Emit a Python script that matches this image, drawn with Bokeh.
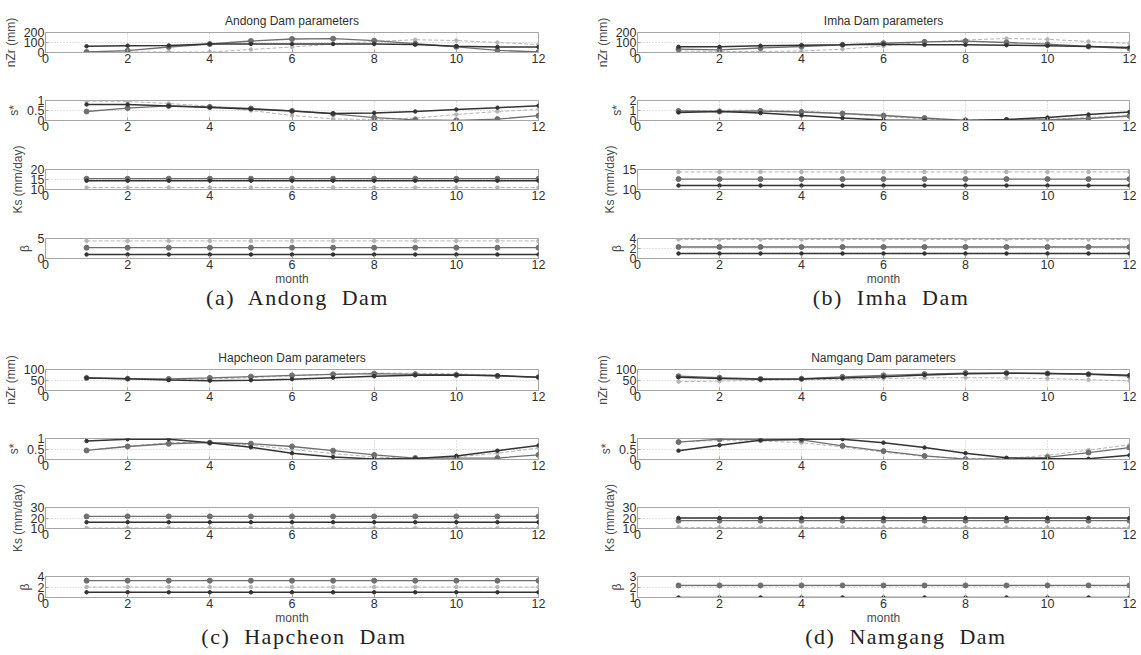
from bokeh.plotting import figure
from bokeh.layouts import column, row
from bokeh.models import Range1d, FixedTicker, CustomJSTickFormatter, Div, Spacer
from bokeh.embed import file_html
from bokeh.resources import INLINE

# ---------------- data ----------------
months = [1, 2, 3, 4, 5, 6, 7, 8, 9, 10, 11, 12]
month_ticks = [0, 2, 4, 6, 8, 10, 12]

# (a) Andong Dam
a_nzr_dark = [62, 68, 70, 85, 86, 86, 86, 86, 80, 62, 56, 55]
a_nzr_mid = [5, 18, 55, 85, 115, 135, 138, 118, 88, 57, 22, 5]
a_nzr_light = [5, 5, 5, 5, 30, 55, 85, 110, 128, 120, 100, 80]
a_s_dark = [0.8, 0.8, 0.73, 0.65, 0.57, 0.47, 0.35, 0.38, 0.45, 0.55, 0.64, 0.74]
a_s_mid = [0.45, 0.62, 0.73, 0.68, 0.6, 0.48, 0.33, 0.14, 0.03, 0.01, 0.07, 0.24]
a_s_light = [0.97, 0.95, 0.85, 0.72, 0.5, 0.25, 0.08, 0.05, 0.12, 0.3, 0.45, 0.55]
a_ks_dark = [14.4, 14.4, 14.4, 14.4, 14.4, 14.4, 14.4, 14.4, 14.4, 14.4, 14.4, 14.4]
a_ks_mid = [15.4, 15.4, 15.4, 15.4, 15.4, 15.4, 15.4, 15.4, 15.4, 15.4, 15.4, 15.4]
a_ks_light = [11, 11, 11, 11, 11, 11, 11, 11, 11, 11, 11, 11]
a_b_dark = [1, 1, 1, 1, 1, 1, 1, 1, 1, 1, 1, 1]
a_b_mid = [2.7, 2.7, 2.7, 2.7, 2.7, 2.7, 2.7, 2.7, 2.7, 2.7, 2.7, 2.7]
a_b_light = [4.4, 4.4, 4.4, 4.4, 4.4, 4.4, 4.4, 4.4, 4.4, 4.4, 4.4, 4.4]

# (b) Imha Dam
b_nzr_dark = [57, 57, 67, 73, 77, 83, 77, 77, 73, 67, 60, 50]
b_nzr_mid = [33, 27, 45, 60, 77, 93, 107, 113, 100, 83, 60, 40]
b_nzr_light = [15, 10, 10, 15, 33, 65, 105, 125, 140, 132, 110, 92]
b_s_dark = [0.8, 0.9, 0.75, 0.5, 0.25, 0.05, 0.0, 0.0, 0.1, 0.3, 0.6, 0.85]
b_s_mid = [0.95, 0.9, 0.95, 0.85, 0.7, 0.5, 0.25, 0.02, 0.05, 0.05, 0.2, 0.45]
b_s_light = [1.0, 1.0, 1.05, 0.95, 0.7, 0.4, 0.15, 0.02, 0.05, 0.12, 0.3, 0.5]
b_ks_dark = [11, 11, 11, 11, 11, 11, 11, 11, 11, 11, 11, 11]
b_ks_mid = [12.6, 12.6, 12.6, 12.6, 12.6, 12.6, 12.6, 12.6, 12.6, 12.6, 12.6, 12.6]
b_ks_light = [14.4, 14.4, 14.4, 14.4, 14.4, 14.4, 14.4, 14.4, 14.4, 14.4, 14.4, 14.4]
b_b_dark = [1, 1, 1, 1, 1, 1, 1, 1, 1, 1, 1, 1]
b_b_mid = [2.3, 2.3, 2.3, 2.3, 2.3, 2.3, 2.3, 2.3, 2.3, 2.3, 2.3, 2.3]
b_b_light = [3.8, 3.8, 3.8, 3.8, 3.8, 3.8, 3.8, 3.8, 3.8, 3.8, 3.8, 3.8]

# (c) Hapcheon Dam
c_nzr_dark = [60, 56, 50, 47, 49, 54, 61, 68, 73, 74, 71, 63]
c_nzr_mid = [60, 56, 55, 60, 66, 72, 77, 80, 77, 74, 69, 64]
c_nzr_light = [60, 55, 52, 55, 61, 70, 78, 83, 82, 80, 72, 62]
c_s_dark = [0.88, 0.97, 0.97, 0.8, 0.58, 0.3, 0.12, 0.02, 0.05, 0.17, 0.42, 0.67]
c_s_mid = [0.43, 0.62, 0.75, 0.8, 0.75, 0.62, 0.42, 0.22, 0.07, 0.07, 0.07, 0.22]
c_s_light = [0.45, 0.63, 0.8, 0.82, 0.68, 0.48, 0.28, 0.12, 0.05, 0.12, 0.3, 0.55]
c_ks_dark = [16, 16, 16, 16, 16, 16, 16, 16, 16, 16, 16, 16]
c_ks_mid = [21.5, 21.5, 21.5, 21.5, 21.5, 21.5, 21.5, 21.5, 21.5, 21.5, 21.5, 21.5]
c_ks_light = [10.5, 10.5, 10.5, 10.5, 10.5, 10.5, 10.5, 10.5, 10.5, 10.5, 10.5, 10.5]
c_b_dark = [1, 1, 1, 1, 1, 1, 1, 1, 1, 1, 1, 1]
c_b_mid = [3.2, 3.2, 3.2, 3.2, 3.2, 3.2, 3.2, 3.2, 3.2, 3.2, 3.2, 3.2]
c_b_light = [2, 2, 2, 2, 2, 2, 2, 2, 2, 2, 2, 2]

# (d) Namgang Dam
d_nzr_dark = [63, 57, 53, 55, 59, 66, 74, 80, 82, 81, 78, 73]
d_nzr_mid = [68, 61, 55, 56, 65, 72, 78, 83, 83, 81, 77, 69]
d_nzr_light = [42, 45, 48, 51, 54, 57, 60, 61, 60, 57, 51, 46]
d_s_dark = [0.42, 0.68, 0.92, 0.97, 0.97, 0.8, 0.57, 0.3, 0.08, 0.03, 0.03, 0.2]
d_s_mid = [0.83, 0.97, 0.95, 0.93, 0.65, 0.4, 0.17, 0.02, 0.02, 0.1, 0.33, 0.57]
d_s_light = [0.85, 0.9, 0.88, 0.8, 0.6, 0.35, 0.15, 0.05, 0.05, 0.2, 0.45, 0.7]
d_ks_dark = [20, 20, 20, 20, 20, 20, 20, 20, 20, 20, 20, 20]
d_ks_mid = [17.5, 17.5, 17.5, 17.5, 17.5, 17.5, 17.5, 17.5, 17.5, 17.5, 17.5, 17.5]
d_ks_light = [11, 11, 11, 11, 11, 11, 11, 11, 11, 11, 11, 11]
d_b_dark = [1, 1, 1, 1, 1, 1, 1, 1, 1, 1, 1, 1]
d_b_mid = [2.15, 2.15, 2.15, 2.15, 2.15, 2.15, 2.15, 2.15, 2.15, 2.15, 2.15, 2.15]
d_b_light = [2.1, 2.1, 2.1, 2.1, 2.1, 2.1, 2.1, 2.1, 2.1, 2.1, 2.1, 2.1]

titles = ["Andong Dam parameters", "Imha Dam parameters",
          "Hapcheon Dam parameters", "Namgang Dam parameters"]
captions = ["(a)  Andong  Dam", "(b)  Imha  Dam", "(c)  Hapcheon  Dam", "(d)  Namgang  Dam"]
ylabels = ["nZr (mm)", "s*", "Ks (mm/day)", "\u03b2"]

yranges = {
    "a": [(0, 200), (0, 1), (10, 20), (0, 5)],
    "b": [(0, 200), (0, 2), (10, 15), (0, 4)],
    "c": [(0, 100), (0, 1), (10, 30), (0, 4)],
    "d": [(0, 100), (0, 1), (10, 30), (1, 3)],
}
yticks = {
    "a": [[0, 100, 200], [0, 0.5, 1], [10, 15, 20], [0, 5]],
    "b": [[0, 100, 200], [0, 1, 2], [10, 15], [0, 2, 4]],
    "c": [[0, 50, 100], [0, 0.5, 1], [10, 20, 30], [0, 2, 4]],
    "d": [[0, 50, 100], [0, 0.5, 1], [10, 20, 30], [1, 2, 3]],
}
series = {
    "a": [(a_nzr_dark, a_nzr_mid, a_nzr_light), (a_s_dark, a_s_mid, a_s_light),
          (a_ks_dark, a_ks_mid, a_ks_light), (a_b_dark, a_b_mid, a_b_light)],
    "b": [(b_nzr_dark, b_nzr_mid, b_nzr_light), (b_s_dark, b_s_mid, b_s_light),
          (b_ks_dark, b_ks_mid, b_ks_light), (b_b_dark, b_b_mid, b_b_light)],
    "c": [(c_nzr_dark, c_nzr_mid, c_nzr_light), (c_s_dark, c_s_mid, c_s_light),
          (c_ks_dark, c_ks_mid, c_ks_light), (c_b_dark, c_b_mid, c_b_light)],
    "d": [(d_nzr_dark, d_nzr_mid, d_nzr_light), (d_s_dark, d_s_mid, d_s_light),
          (d_ks_dark, d_ks_mid, d_ks_light), (d_b_dark, d_b_mid, d_b_light)],
}

# ---------------- style ----------------
DARK = "#333333"
MID = "#6f6f6f"
LIGHT = "#b5b5b5"
BOX = "#a6a6a6"
GRID = "#c4c4c4"
TXT = "#303030"
LBL = "#4a4a4a"
FONT = "Liberation Sans"


def subplot(key, i, bl, fw, br, bt, fh, bb, title=None, xlabel=None):
    y0, y1 = yranges[key][i]
    p = figure(output_backend="svg", toolbar_location=None, tools="",
               frame_width=fw, frame_height=fh,
               min_border_left=bl, min_border_right=br,
               min_border_top=bt, min_border_bottom=bb,
               x_range=Range1d(0, 12), y_range=Range1d(y0, y1))
    p.background_fill_color = "white"
    p.border_fill_color = "white"
    p.outline_line_color = BOX
    p.outline_line_width = 1

    for ax in (p.xaxis[0], p.yaxis[0]):
        ax.axis_line_color = BOX
        ax.major_tick_line_color = BOX
        ax.major_tick_in = 3
        ax.major_tick_out = 0
        ax.minor_tick_line_color = None
        ax.major_label_text_font = FONT
        ax.major_label_text_font_size = "12.5px"
        ax.major_label_text_color = TXT
        ax.major_label_standoff = 1
        ax.axis_label_text_font = FONT
        ax.axis_label_text_font_size = "12px"
        ax.axis_label_text_font_style = "normal"
        ax.axis_label_text_color = LBL
        ax.axis_label_standoff = 3

    p.xaxis.ticker = FixedTicker(ticks=month_ticks)
    p.yaxis.ticker = FixedTicker(ticks=yticks[key][i])
    p.yaxis.formatter = CustomJSTickFormatter(code="return String(tick);")
    p.yaxis.axis_label = ylabels[i]
    if xlabel:
        p.xaxis.axis_label = xlabel
        p.xaxis.axis_label_standoff = 0

    for g in (p.xgrid[0], p.ygrid[0]):
        g.grid_line_color = GRID
        g.grid_line_dash = "1 2"
        g.grid_line_width = 1

    if title:
        p.title.text = title
        p.title.align = "center"
        p.title.text_font = FONT
        p.title.text_font_size = "12px"
        p.title.text_font_style = "normal"
        p.title.text_color = TXT
        p.title.standoff = 10

    dark, mid, light = series[key][i]
    p.line(months, light, line_color=LIGHT, line_width=1, line_dash="4 2")
    p.scatter(months, light, size=3.5, marker="circle", color=LIGHT)
    p.line(months, mid, line_color=MID, line_width=1.3)
    p.scatter(months, mid, size=5, marker="circle", fill_color=MID, line_color=MID)
    p.line(months, dark, line_color=DARK, line_width=1.5)
    p.scatter(months, dark, size=3.5, marker="circle", color=DARK)
    return p


def caption(text, spacer_w, w, h):
    d = Div(text=text, width=w, height=h, margin=(0, 0, 0, 0),
            styles={"font-family": "'Liberation Serif', serif", "font-size": "22px",
                    "line-height": "20px", "text-align": "center",
                    "letter-spacing": "1.5px", "white-space": "pre", "color": "#222222"})
    return row(Spacer(width=spacer_w, height=h), d, spacing=0)


def panel(key, bl, fw, br, fh, borders, cap_h, cap_sp, cap_w, title, cap):
    figs = []
    for i in range(4):
        bt, bb = borders[i]
        figs.append(subplot(key, i, bl, fw, br, bt, fh, bb,
                            title=title if i == 0 else None,
                            xlabel="month" if i == 3 else None))
    figs.append(caption(cap, cap_sp, cap_w, cap_h))
    return column(*figs, spacing=0)


top_b = [(32, 18), (30, 23), (26, 24), (25, 29)]
bot_b = [(32, 16), (32, 17), (31, 23), (25, 29)]

col_a = panel("a", 45, 493, 50, 20, top_b, 49, 48, 499, titles[0], captions[0])
col_b = panel("b", 49, 492, 10, 20, top_b, 49, 61, 484, titles[1], captions[1])
col_c = panel("c", 45, 493, 50, 21, bot_b, 22, 48, 512, titles[2], captions[2])
col_d = panel("d", 49, 492, 10, 21, bot_b, 22, 91, 454, titles[3], captions[3])

layout = column(row(col_a, col_b, spacing=0), row(col_c, col_d, spacing=0), spacing=0)

open("out.html", "w").write(file_html(layout, INLINE))
